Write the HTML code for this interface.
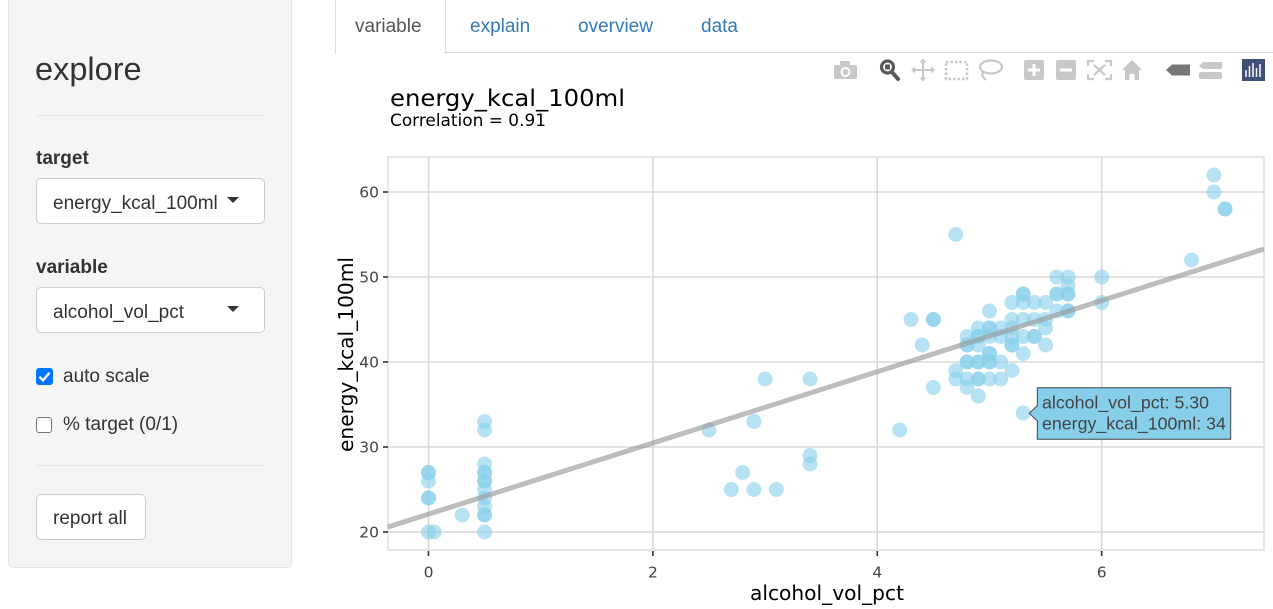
<!DOCTYPE html>
<html>
<head>
<meta charset="utf-8">
<style>
  html,body{margin:0;padding:0;background:#fff;}
  body{width:1273px;height:609px;position:relative;overflow:hidden;font-family:"Liberation Sans",Arial,sans-serif;color:#333;}
  .abs{position:absolute;}
  .well{left:8px;top:-10px;width:282px;height:576px;background:#f5f5f5;border:1px solid #e3e3e3;border-radius:5px;}
  .hr{left:36px;width:229px;height:0;border-top:1px solid #e5e5e5;}
  .lbl{font-weight:bold;font-size:19px;left:36px;line-height:19px;}
  .sel{left:35.5px;width:227px;height:44px;background:#fff;border:1px solid #ccc;border-radius:5px;}
  .seltxt{font-size:19px;left:53px;line-height:19px;color:#333;}
  .caret{width:0;height:0;border-left:6.5px solid transparent;border-right:6.5px solid transparent;border-top:6px solid #333;}
  .txt19{font-size:19px;line-height:19px;}
</style>
</head>
<body>
<!-- sidebar -->
<div class="abs well"></div>
<div class="abs" style="left:35px;top:50px;font-size:32.5px;line-height:38px;color:#333;">explore</div>
<div class="abs hr" style="top:115px;"></div>
<div class="abs lbl" style="top:149px;">target</div>
<div class="abs sel" style="top:178px;"></div>
<div class="abs seltxt" style="top:194px;">energy_kcal_100ml</div>
<div class="abs caret" style="left:226.5px;top:197px;"></div>
<div class="abs lbl" style="top:258px;">variable</div>
<div class="abs sel" style="top:287px;"></div>
<div class="abs seltxt" style="top:303px;">alcohol_vol_pct</div>
<div class="abs caret" style="left:226.5px;top:306px;"></div>
<div class="abs" style="left:35.5px;top:368px;width:17px;height:17px;background:#0075ff;border-radius:3px;"></div>
<svg class="abs" style="left:35.5px;top:368px;" width="17" height="17"><path d="M3.5 8.8 L7 12.3 L13.5 4.8" stroke="#fff" stroke-width="2.4" fill="none"/></svg>
<div class="abs txt19" style="left:63px;top:367px;">auto scale</div>
<div class="abs" style="left:35.5px;top:416.5px;width:14px;height:14px;background:#fff;border:1.5px solid #767676;border-radius:3px;"></div>
<div class="abs txt19" style="left:63px;top:415px;">% target (0/1)</div>
<div class="abs hr" style="top:465px;"></div>
<div class="abs" style="left:35.5px;top:494px;width:108px;height:44px;background:#fff;border:1px solid #ccc;border-radius:5px;"></div>
<div class="abs txt19" style="left:53px;top:509px;">report all</div>

<!-- tabs -->
<div class="abs" style="left:335px;top:-5px;width:109px;height:58px;border:1px solid #ddd;border-bottom:none;background:#fff;border-radius:4px 4px 0 0;"></div>
<div class="abs" style="left:444px;top:52px;width:829px;height:0;border-top:1px solid #ddd;"></div>
<div class="abs txt19" style="left:355px;top:17px;color:#555;">variable</div>
<div class="abs txt19" style="left:470px;top:17px;color:#337ab7;">explain</div>
<div class="abs txt19" style="left:578px;top:17px;color:#337ab7;">overview</div>
<div class="abs txt19" style="left:701px;top:17px;color:#337ab7;">data</div>

<!-- plot -->
<svg class="abs" style="left:0;top:0;" width="1273" height="609" xmlns="http://www.w3.org/2000/svg">
  <!-- toolbar -->
  <g fill="#c8c8c8" stroke="none">
    <rect x="834" y="65" width="23" height="14" rx="2"/>
    <rect x="840" y="61" width="10" height="5" rx="1"/>
    <circle cx="845.5" cy="72" r="5" fill="#fff"/>
    <circle cx="845.5" cy="72" r="3"/>
  </g>
  <g stroke="#5a5a5a" fill="none">
    <circle cx="887.5" cy="67" r="6" stroke-width="3.2"/>
    <rect x="885" y="64.5" width="5" height="5" fill="#5a5a5a" stroke="none"/>
    <line x1="892" y1="72" x2="898" y2="79" stroke-width="4" stroke-linecap="round"/>
  </g>
  <g stroke="#c8c8c8" stroke-width="2" fill="#c8c8c8">
    <line x1="913" y1="70" x2="933" y2="70"/>
    <line x1="923" y1="60" x2="923" y2="80"/>
    <polygon points="911,70 915,66.5 915,73.5" stroke="none"/>
    <polygon points="935,70 931,66.5 931,73.5" stroke="none"/>
    <polygon points="923,58.5 919.5,62.5 926.5,62.5" stroke="none"/>
    <polygon points="923,81.5 919.5,77.5 926.5,77.5" stroke="none"/>
  </g>
  <rect x="946" y="62" width="21" height="17" fill="none" stroke="#c8c8c8" stroke-width="2.5" stroke-dasharray="2.5 2"/>
  <g stroke="#c8c8c8" stroke-width="2.2" fill="none">
    <ellipse cx="991" cy="67" rx="11" ry="6.5"/>
    <path d="M984 72 C980 75 984 78 986 80"/>
  </g>
  <rect x="1024" y="60" width="20" height="20" rx="2" fill="#c8c8c8"/>
  <path d="M1034 64 V76 M1028 70 H1040" stroke="#fff" stroke-width="3"/>
  <rect x="1056" y="60" width="20" height="20" rx="2" fill="#c8c8c8"/>
  <path d="M1060 70 H1072" stroke="#fff" stroke-width="3"/>
  <g stroke="#c8c8c8" stroke-width="2.2" fill="none">
    <path d="M1088 66 V61 H1094 M1105 61 H1111 V66 M1111 74 V79 H1105 M1094 79 H1088 V74"/>
    <path d="M1094 65 L1105 75 M1105 65 L1094 75"/>
  </g>
  <polygon points="1132,60 1142,70 1139,70 1139,80 1134.5,80 1134.5,74 1129.5,74 1129.5,80 1125,80 1125,70 1122,70" fill="#c8c8c8"/>
  <polygon points="1166,70 1172,64.5 1190,64.5 1190,75.5 1172,75.5" fill="#777"/>
  <polygon points="1199,66 1203,62 1222,62 1222,69 1203,69" fill="#c8c8c8"/>
  <rect x="1199" y="72" width="23" height="7" rx="2" fill="#c8c8c8"/>
  <rect x="1242" y="59" width="23" height="22" fill="#3f4f75"/>
  <g stroke="#fff" stroke-width="1.5">
    <line x1="1246" y1="70" x2="1246" y2="77"/>
    <line x1="1249.5" y1="66" x2="1249.5" y2="77"/>
    <line x1="1253" y1="63" x2="1253" y2="77"/>
    <line x1="1256.5" y1="68" x2="1256.5" y2="77"/>
    <line x1="1260" y1="64" x2="1260" y2="77"/>
  </g>

  <!-- titles -->
  <text x="390" y="106" font-family="DejaVu Sans, Verdana, sans-serif" font-size="23.5" fill="#000" textLength="235" lengthAdjust="spacingAndGlyphs">energy_kcal_100ml</text>
  <text x="390" y="126" font-family="DejaVu Sans, Verdana, sans-serif" font-size="16.5" fill="#000" textLength="156" lengthAdjust="spacingAndGlyphs">Correlation = 0.91</text>

  <!-- panel -->
  <rect x="388" y="157" width="876" height="393" fill="#fff" stroke="#dedede" stroke-width="1.5"/>
  <g stroke="#d9d9d9" stroke-width="1.6">
    <line x1="388" y1="192" x2="1264" y2="192"/>
    <line x1="388" y1="277" x2="1264" y2="277"/>
    <line x1="388" y1="362" x2="1264" y2="362"/>
    <line x1="388" y1="447" x2="1264" y2="447"/>
    <line x1="388" y1="532" x2="1264" y2="532"/>
    <line x1="428.5" y1="157" x2="428.5" y2="550"/>
    <line x1="652.9" y1="157" x2="652.9" y2="550"/>
    <line x1="877.3" y1="157" x2="877.3" y2="550"/>
    <line x1="1101.7" y1="157" x2="1101.7" y2="550"/>
  </g>
  <!-- ticks -->
  <g stroke="#333" stroke-width="1.6">
    <line x1="383" y1="192" x2="388" y2="192"/>
    <line x1="383" y1="277" x2="388" y2="277"/>
    <line x1="383" y1="362" x2="388" y2="362"/>
    <line x1="383" y1="447" x2="388" y2="447"/>
    <line x1="383" y1="532" x2="388" y2="532"/>
    <line x1="428.5" y1="551" x2="428.5" y2="556"/>
    <line x1="652.9" y1="551" x2="652.9" y2="556"/>
    <line x1="877.3" y1="551" x2="877.3" y2="556"/>
    <line x1="1101.7" y1="551" x2="1101.7" y2="556"/>
  </g>
  <g font-family="DejaVu Sans, Verdana, sans-serif" font-size="15.5" fill="#444" text-anchor="end">
    <text x="379" y="197.6">60</text>
    <text x="379" y="282.6">50</text>
    <text x="379" y="367.6">40</text>
    <text x="379" y="452.6">30</text>
    <text x="379" y="537.6">20</text>
  </g>
  <g font-family="DejaVu Sans, Verdana, sans-serif" font-size="15.5" fill="#444" text-anchor="middle">
    <text x="428.5" y="577.5">0</text>
    <text x="652.9" y="577.5">2</text>
    <text x="877.3" y="577.5">4</text>
    <text x="1101.7" y="577.5">6</text>
  </g>
  <text x="827" y="600" font-family="DejaVu Sans, Verdana, sans-serif" font-size="20" fill="#000" text-anchor="middle" textLength="154" lengthAdjust="spacingAndGlyphs">alcohol_vol_pct</text>
  <text transform="translate(353,354.5) rotate(-90)" x="0" y="0" font-family="DejaVu Sans, Verdana, sans-serif" font-size="20" fill="#000" text-anchor="middle" textLength="195" lengthAdjust="spacingAndGlyphs">energy_kcal_100ml</text>

  <!-- points -->
  <g fill="#87ceeb" fill-opacity="0.6">
    <circle cx="428.5" cy="472.5" r="7.5"/><circle cx="428.5" cy="472.5" r="7.5"/>
    <circle cx="428.5" cy="481" r="7.5"/>
    <circle cx="428.5" cy="498" r="7.5"/><circle cx="428.5" cy="498" r="7.5"/>
    <circle cx="428.5" cy="532" r="7.5"/>
    <circle cx="434.1" cy="532" r="7.5"/>
    <circle cx="462.2" cy="515" r="7.5"/>
    <circle cx="484.6" cy="421.5" r="7.5"/>
    <circle cx="484.6" cy="430" r="7.5"/>
    <circle cx="484.6" cy="464" r="7.5"/>
    <circle cx="484.6" cy="472.5" r="7.5"/><circle cx="484.6" cy="472.5" r="7.5"/>
    <circle cx="484.6" cy="481" r="7.5"/><circle cx="484.6" cy="481" r="7.5"/>
    <circle cx="484.6" cy="489.5" r="7.5"/>
    <circle cx="484.6" cy="498" r="7.5"/>
    <circle cx="484.6" cy="506.5" r="7.5"/>
    <circle cx="484.6" cy="515" r="7.5"/><circle cx="484.6" cy="515" r="7.5"/>
    <circle cx="484.6" cy="532" r="7.5"/>
    <circle cx="709" cy="430" r="7.5"/>
    <circle cx="731.4" cy="489.5" r="7.5"/>
    <circle cx="742.7" cy="472.5" r="7.5"/>
    <circle cx="753.9" cy="421.5" r="7.5"/>
    <circle cx="753.9" cy="489.5" r="7.5"/>
    <circle cx="765.1" cy="379" r="7.5"/>
    <circle cx="776.3" cy="489.5" r="7.5"/>
    <circle cx="810" cy="379" r="7.5"/>
    <circle cx="810" cy="455.5" r="7.5"/>
    <circle cx="810" cy="464" r="7.5"/>
    <circle cx="899.7" cy="430" r="7.5"/>
    <circle cx="911" cy="319.5" r="7.5"/>
    <circle cx="922.2" cy="345" r="7.5"/>
    <circle cx="933.4" cy="319.5" r="7.5"/><circle cx="933.4" cy="319.5" r="7.5"/>
    <circle cx="933.4" cy="387.5" r="7.5"/>
    <circle cx="955.8" cy="234.5" r="7.5"/>
    <circle cx="955.8" cy="370.5" r="7.5"/>
    <circle cx="955.8" cy="379" r="7.5"/>
    <!-- 4.8 -->
    <circle cx="967.1" cy="336.5" r="7.5"/>
    <circle cx="967.1" cy="345" r="7.5"/><circle cx="967.1" cy="345" r="7.5"/>
    <circle cx="967.1" cy="362" r="7.5"/><circle cx="967.1" cy="362" r="7.5"/>
    <circle cx="967.1" cy="379" r="7.5"/>
    <circle cx="967.1" cy="387.5" r="7.5"/>
    <!-- 4.9 -->
    <circle cx="978.3" cy="328" r="7.5"/>
    <circle cx="978.3" cy="336.5" r="7.5"/><circle cx="978.3" cy="336.5" r="7.5"/>
    <circle cx="978.3" cy="345" r="7.5"/>
    <circle cx="978.3" cy="362" r="7.5"/><circle cx="978.3" cy="362" r="7.5"/>
    <circle cx="978.3" cy="379" r="7.5"/><circle cx="978.3" cy="379" r="7.5"/>
    <circle cx="978.3" cy="396" r="7.5"/>
    <!-- 5.0 -->
    <circle cx="989.5" cy="311" r="7.5"/>
    <circle cx="989.5" cy="328" r="7.5"/><circle cx="989.5" cy="328" r="7.5"/>
    <circle cx="989.5" cy="336.5" r="7.5"/>
    <circle cx="989.5" cy="353.5" r="7.5"/><circle cx="989.5" cy="353.5" r="7.5"/>
    <circle cx="989.5" cy="362" r="7.5"/><circle cx="989.5" cy="362" r="7.5"/>
    <circle cx="989.5" cy="379" r="7.5"/>
    <!-- 5.1 -->
    <circle cx="1000.7" cy="328" r="7.5"/>
    <circle cx="1000.7" cy="336.5" r="7.5"/>
    <circle cx="1000.7" cy="362" r="7.5"/>
    <circle cx="1000.7" cy="379" r="7.5"/>
    <!-- 5.2 -->
    <circle cx="1011.9" cy="302.5" r="7.5"/>
    <circle cx="1011.9" cy="319.5" r="7.5"/>
    <circle cx="1011.9" cy="328" r="7.5"/>
    <circle cx="1011.9" cy="336.5" r="7.5"/>
    <circle cx="1011.9" cy="345" r="7.5"/><circle cx="1011.9" cy="345" r="7.5"/>
    <circle cx="1011.9" cy="370.5" r="7.5"/>
    <!-- 5.3 -->
    <circle cx="1023.2" cy="294" r="7.5"/><circle cx="1023.2" cy="294" r="7.5"/>
    <circle cx="1023.2" cy="302.5" r="7.5"/>
    <circle cx="1023.2" cy="319.5" r="7.5"/>
    <circle cx="1023.2" cy="336.5" r="7.5"/>
    <circle cx="1023.2" cy="353.5" r="7.5"/>
    <circle cx="1023.2" cy="413" r="7.5"/>
    <!-- 5.4 -->
    <circle cx="1034.4" cy="302.5" r="7.5"/>
    <circle cx="1034.4" cy="319.5" r="7.5"/>
    <circle cx="1034.4" cy="336.5" r="7.5"/><circle cx="1034.4" cy="336.5" r="7.5"/>
    <!-- 5.5 -->
    <circle cx="1045.6" cy="302.5" r="7.5"/>
    <circle cx="1045.6" cy="319.5" r="7.5"/>
    <circle cx="1045.6" cy="328" r="7.5"/>
    <circle cx="1045.6" cy="345" r="7.5"/>
    <!-- 5.6 -->
    <circle cx="1056.8" cy="277" r="7.5"/>
    <circle cx="1056.8" cy="294" r="7.5"/><circle cx="1056.8" cy="294" r="7.5"/>
    <circle cx="1056.8" cy="311" r="7.5"/>
    <!-- 5.7 -->
    <circle cx="1068" cy="277" r="7.5"/>
    <circle cx="1068" cy="285.5" r="7.5"/>
    <circle cx="1068" cy="294" r="7.5"/><circle cx="1068" cy="294" r="7.5"/>
    <circle cx="1068" cy="311" r="7.5"/><circle cx="1068" cy="311" r="7.5"/>
    <!-- 6.0+ -->
    <circle cx="1101.7" cy="277" r="7.5"/>
    <circle cx="1101.7" cy="302.5" r="7.5"/>
    <circle cx="1191.5" cy="260" r="7.5"/>
    <circle cx="1213.9" cy="175" r="7.5"/>
    <circle cx="1213.9" cy="192" r="7.5"/>
    <circle cx="1225.1" cy="209" r="7.5"/><circle cx="1225.1" cy="209" r="7.5"/>
  </g>

  <!-- regression line -->
  <line x1="388" y1="527" x2="1264" y2="249" stroke="#9a9a9a" stroke-opacity="0.65" stroke-width="5"/>

  <!-- tooltip -->
  <path d="M1037.3 387.7 H1230.7 V439.3 H1037.3 V421 L1029.3 413.3 L1037.3 405.6 Z" fill="#87ceeb" stroke="#444" stroke-width="1"/>
  <g font-family="Liberation Sans, Arial, sans-serif" font-size="17.8" fill="#444">
    <text x="1042" y="408.3">alcohol_vol_pct: 5.30</text>
    <text x="1042" y="429.3">energy_kcal_100ml: 34</text>
  </g>
</svg>
</body>
</html>
